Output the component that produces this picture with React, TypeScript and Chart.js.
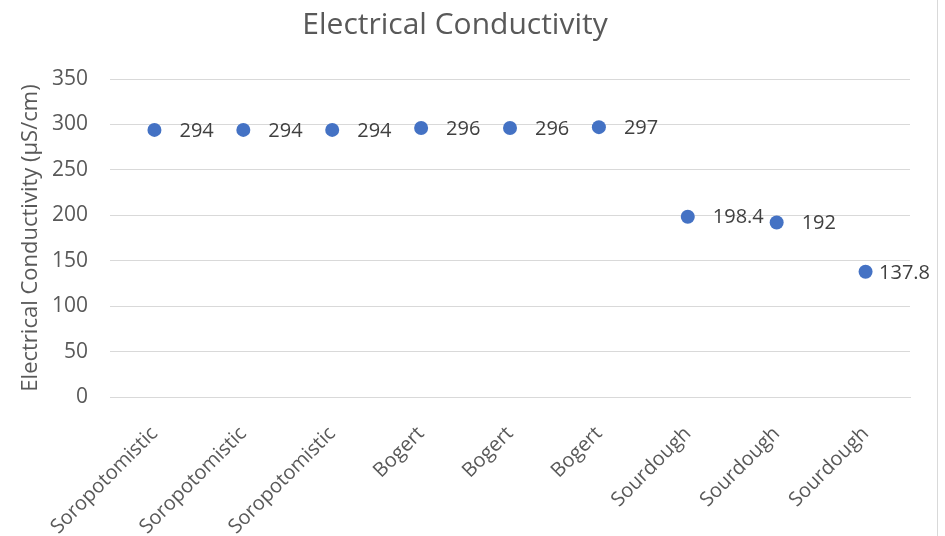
import React, { useEffect, useRef } from "react";
import { Chart, registerables } from "chart.js";

Chart.register(...registerables);

const chartTitle = "Electrical Conductivity";
const yAxisTitle = "Electrical Conductivity (µS/cm)";
const categories = [
  "Soropotomistic",
  "Soropotomistic",
  "Soropotomistic",
  "Bogert",
  "Bogert",
  "Bogert",
  "Sourdough",
  "Sourdough",
  "Sourdough",
];
const conductivity = [294, 294, 294, 296, 296, 297, 198.4, 192, 137.8];
const yTicks = [0, 50, 100, 150, 200, 250, 300, 350];

const FONT = "'Open Sans', 'Noto Sans', sans-serif";

const labelPlugin = {
  id: "pointLabels",
  afterDatasetsDraw(chart: any) {
    const ctx = chart.ctx;
    const meta = chart.getDatasetMeta(0);
    const ds = chart.data.datasets[0];
    ctx.save();
    ctx.font = `20px ${FONT}`;
    ctx.fillStyle = "#404040";
    ctx.textBaseline = "middle";
    ctx.textAlign = "left";
    meta.data.forEach((pt: any, i: number) => {
      const text = String(ds.data[i]);
      const w = ctx.measureText(text).width;
      let x = pt.x + 25;
      const maxX = chart.width - 15 - w;
      if (x > maxX) x = Math.max(pt.x + 9, maxX);
      ctx.fillText(text, x, pt.y + 1);
    });
    ctx.restore();
  },
};

const borderPlugin = {
  id: "rightBorder",
  afterDraw(chart: any) {
    const ctx = chart.ctx;
    ctx.save();
    ctx.strokeStyle = "#d9d9d9";
    ctx.lineWidth = 1;
    ctx.beginPath();
    ctx.moveTo(937.5, 0);
    ctx.lineTo(937.5, chart.height);
    ctx.stroke();
    ctx.restore();
  },
};

export default function App() {
  const ref = useRef<HTMLCanvasElement | null>(null);
  useEffect(() => {
    if (!ref.current) return;
    const chart = new Chart(ref.current, {
      type: "line",
      data: {
        labels: categories,
        datasets: [
          {
            data: conductivity,
            showLine: false,
            pointRadius: 7,
            pointHoverRadius: 7,
            pointBackgroundColor: "#4472C4",
            pointBorderColor: "#4472C4",
            pointBorderWidth: 0,
          },
        ],
      },
      options: {
        animation: false,
        responsive: false,
        maintainAspectRatio: false,
        layout: { padding: { left: 0, right: 35, top: 0, bottom: 0 } },
        plugins: {
          legend: { display: false },
          tooltip: { enabled: false },
          title: {
            display: true,
            text: chartTitle,
            color: "#595959",
            font: { family: FONT, size: 30, weight: "normal" },
            padding: { top: 7, bottom: 36 },
          },
        },
        scales: {
          x: {
            offset: true,
            grid: { display: false, drawTicks: false },
            border: { display: true, color: "#d9d9d9" },
            ticks: {
              color: "#595959",
              font: { family: FONT, size: 20 },
              minRotation: 45,
              maxRotation: 45,
              padding: 25,
              autoSkip: false,
            },
            afterFit: (s: any) => {
              s.height = 139;
            },
          },
          y: {
            min: 0,
            max: 350,
            afterBuildTicks: (s: any) => {
              s.ticks = yTicks.map((v) => ({ value: v }));
            },
            grid: { color: "#d9d9d9", drawTicks: false },
            border: { display: false },
            ticks: {
              color: "#595959",
              font: { family: FONT, size: 21 },
              padding: 22,
            },
            title: {
              display: true,
              text: yAxisTitle,
              color: "#595959",
              font: { family: FONT, size: 22 },
              padding: { top: 18, bottom: 0 },
            },
            afterFit: (s: any) => {
              s.width = 110;
            },
          },
        },
      },
      plugins: [labelPlugin, borderPlugin],
    });
    return () => chart.destroy();
  }, []);
  return (
    <div style={{ position: "fixed", left: 0, top: 0, width: 945, height: 536, background: "#fff" }}>
      <canvas ref={ref} width={945} height={536} style={{ width: 945, height: 536 }} />
    </div>
  );
}
